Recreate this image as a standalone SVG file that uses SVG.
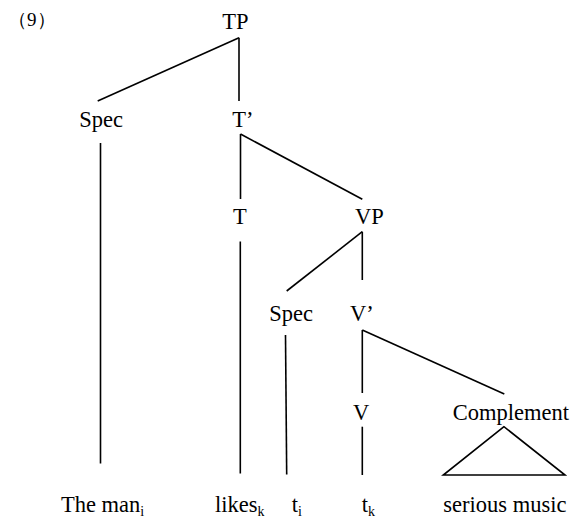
<svg xmlns="http://www.w3.org/2000/svg" width="576" height="518" viewBox="0 0 576 518">
<style>
text{font-family:'Liberation Serif',Tinos,'Times New Roman','DejaVu Serif','Noto Serif',serif;font-size:22.5px;fill:#000}
.num{font-size:19px}
.sub{font-size:14px}
#connectors line,#connectors polygon{stroke:#000;stroke-width:1.6;fill:none}
</style>
<rect width="576" height="518" fill="#fff"/>
<text class="num" x="8" y="26" font-family="'Liberation Serif','Noto Sans CJK SC',serif">（9）</text>
<g id="connectors">
<line x1="239" y1="37.7" x2="97.7" y2="101"/>
<line x1="239" y1="37.7" x2="239" y2="101"/>
<line x1="100.5" y1="143" x2="100.5" y2="463.5"/>
<line x1="240.5" y1="134" x2="240.5" y2="199"/>
<line x1="240.5" y1="134" x2="362.3" y2="199.3"/>
<line x1="240.3" y1="241.5" x2="240.3" y2="473.5"/>
<line x1="362.3" y1="231.7" x2="286.7" y2="291"/>
<line x1="362.3" y1="231.7" x2="362.3" y2="280"/>
<line x1="285.5" y1="335" x2="286.7" y2="474.5"/>
<line x1="362.3" y1="330" x2="362.3" y2="393"/>
<line x1="362.3" y1="330" x2="504.3" y2="394"/>
<line x1="362.3" y1="426.7" x2="362.3" y2="475"/>
<polygon points="504,426.7 443.3,475 565,475" stroke-linejoin="miter"/>
</g>
<g id="TP"><text x="222.3" y="29" font-family="'Liberation Serif',serif">TP</text></g>
<g id="Spec1"><text x="79.3" y="127">Spec</text></g>
<g id="Tbar"><text x="232.3" y="127">T’</text></g>
<g id="T"><text x="233" y="224">T</text></g>
<g id="VP"><text x="355" y="224">VP</text></g>
<g id="Spec2"><text x="269.3" y="321">Spec</text></g>
<g id="Vbar"><text x="350" y="321">V’</text></g>
<g id="V"><text x="353" y="420">V</text></g>
<g id="Complement"><text x="452.7" y="420">Complement</text></g>
<g id="the-man"><text x="61" y="512">The man<tspan class="sub" dy="4">i</tspan></text></g>
<g id="likes"><text x="215" y="512">likes<tspan class="sub" dy="4">k</tspan></text></g>
<g id="ti"><text x="291.7" y="512">t<tspan class="sub" dy="4">i</tspan></text></g>
<g id="tk"><text x="361.7" y="512">t<tspan class="sub" dy="4">k</tspan></text></g>
<g id="serious-music"><text x="443.3" y="512">serious music</text></g>
</svg>
